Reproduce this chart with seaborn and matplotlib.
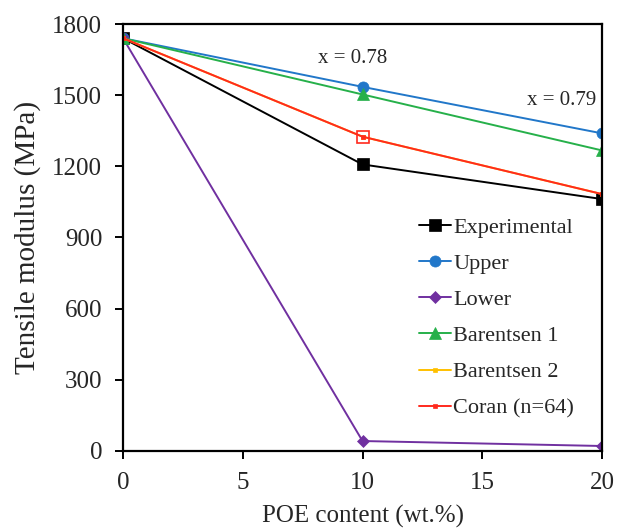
import matplotlib
matplotlib.use("Agg")
import matplotlib.pyplot as plt
import seaborn as sns
import pandas as pd

# POE content (wt.%) and tensile modulus (MPa) for each model
poe = [0, 10, 20]
experimental = [1740, 1208, 1062]
upper = [1740, 1535, 1339]
lower = [1740, 42, 21]
barentsen1 = [1740, 1503, 1267]
barentsen2 = [1740, 1325, 1083]
coran = [1740, 1325, 1083]

series_names = ["Experimental", "Upper", "Lower", "Barentsen 1", "Barentsen 2", "Coran (n=64)"]
series_values = [experimental, upper, lower, barentsen1, barentsen2, coran]
colors = ["#000000", "#2177C9", "#7030A0", "#26B04A", "#FFC000", "#FF2A1E"]
markers = ["s", "o", "D", "^", "s", "s"]
marker_sizes = [8, 8, 6, 8, 3.5, 3.5]

annotations = [("x = 0.78", 9.6, 1655), ("x = 0.79", 18.3, 1478)]

sns.set_style("ticks")
plt.rcParams["font.family"] = ["Liberation Serif", "DejaVu Serif"]

fig = plt.figure(figsize=(6.17, 5.31), dpi=100)
ax = fig.add_axes([0.1994, 0.1507, 0.7763, 0.8041])

df = pd.DataFrame({"POE": poe})
for name, vals, c, m, ms in zip(series_names, series_values, colors, markers, marker_sizes):
    df[name] = vals
    sns.lineplot(data=df, x="POE", y=name, ax=ax, color=c, marker=m, markersize=ms,
                 markeredgecolor=c, markerfacecolor=c, linewidth=1.4, label=name,
                 markeredgewidth=0.5)

# open marker on the Coran model at 10 wt.%
ax.plot(poe[1:2], coran[1:2], linestyle="none", marker="s", markersize=8,
        markerfacecolor="none", markeredgecolor=colors[5], markeredgewidth=1.2)

for txt, x, y in annotations:
    ax.text(x, y, txt, fontsize=15, ha="center", va="center")

ax.set_xlim(0, 20)
ax.set_ylim(0, 1800)
ax.set_xticks([0, 5, 10, 15, 20])
ax.set_yticks(range(0, 1801, 300))
ax.tick_params(axis="both", labelsize=18, length=6, width=1.4, direction="out", color="black")
ax.tick_params(axis="x", pad=9)
ax.tick_params(axis="y", pad=9)
for sp in ax.spines.values():
    sp.set_linewidth(1.6)
    sp.set_color("black")
ax.set_xlabel("POE content (wt.%)", fontsize=18, labelpad=8)
ax.set_ylabel("Tensile modulus (MPa)", fontsize=21, labelpad=8)

leg = ax.legend(loc="lower right", bbox_to_anchor=(0.97, 0.045), frameon=False, fontsize=16,
                handlelength=1.45, handletextpad=0.1, labelspacing=0.7, borderaxespad=0.2)

fig.savefig("out.png", dpi=100)
